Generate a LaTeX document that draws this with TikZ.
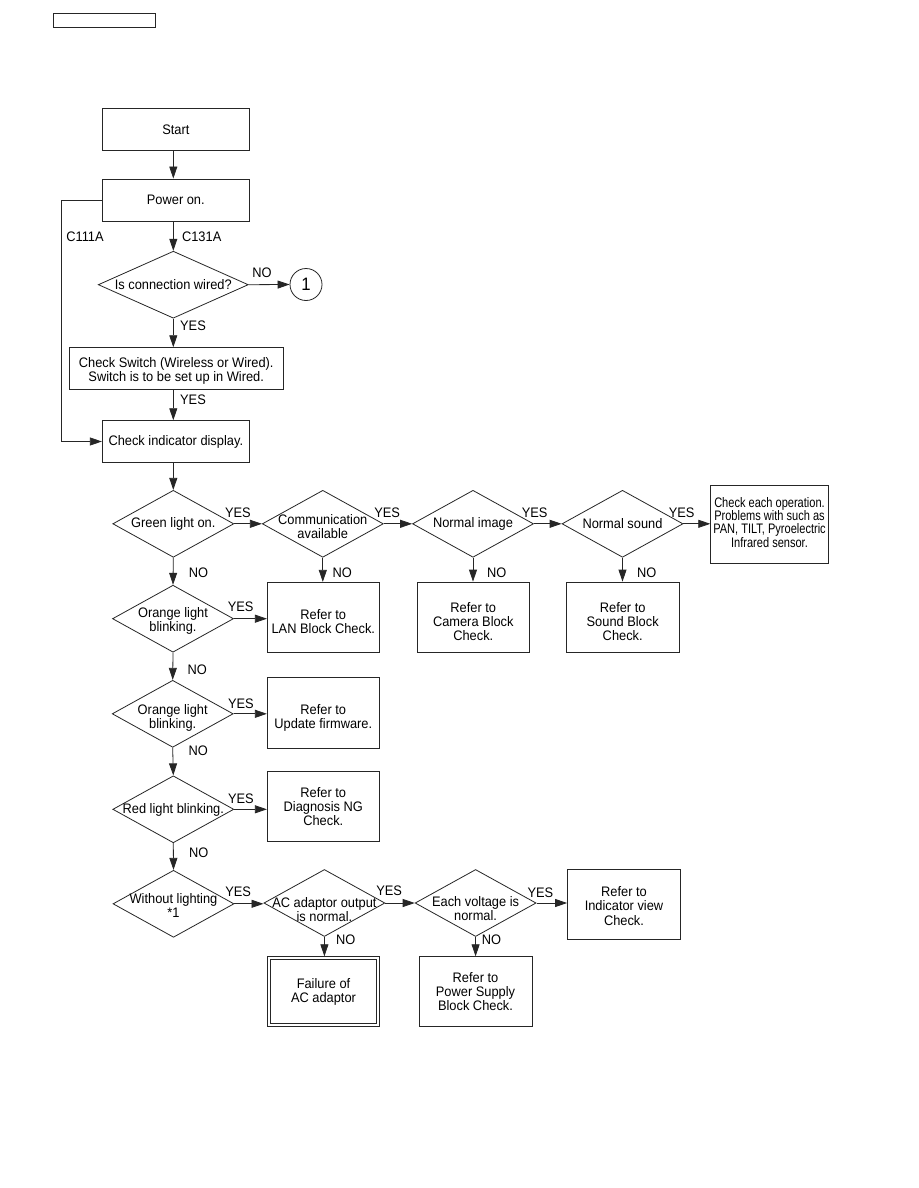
\documentclass[tikz,border=0pt]{standalone}
\usepackage{fontspec}
\setmainfont[FakeStretch=0.93]{Liberation Sans}
\newfontfamily\narrowfont[FakeStretch=0.8]{Liberation Sans}
\usetikzlibrary{shapes.geometric,arrows.meta}
\definecolor{ln}{gray}{0.15}
\tikzset{
  box/.style={draw=ln, rectangle, inner sep=0pt, align=center},
  dia/.style={draw=ln, diamond, inner sep=0pt, minimum width=121pt, minimum height=67pt},
  dtxt/.style={inner sep=0pt, align=center},
  arr/.style={draw=ln, -{Triangle[length=12pt,width=8pt]}},
  lb/.style={inner sep=0pt, anchor=center},
}
\begin{document}
\begin{tikzpicture}[x=1pt,y=-1pt,line width=0.8pt,font=\fontsize{13.8}{14.3}\selectfont]
\useasboundingbox[fill=white] (0,0) rectangle (918,1188);

% header box
\node[box, minimum width=102pt, minimum height=14pt] (hdr) at (104,20) {};

% left column boxes
\node[box, minimum width=147pt, minimum height=42.7pt] (start) at (175.8,129.4) {Start};
\node[box, minimum width=147pt, minimum height=42.7pt] (pw) at (175.8,200.3) {Power on.};
\node[dia, minimum width=150pt, label={[dtxt]center:Is connection wired?}] (q1) at (173.3,284.7) {};
\node[draw=ln, circle, minimum size=32pt, inner sep=0pt, font=\fontsize{18}{18}\selectfont] (one) at (306,284.5) {1};
\node[box, minimum width=214.3pt, minimum height=41.7pt, label={[dtxt,yshift=-2.5pt]center:Check Switch (Wireless or Wired).\\Switch is to be set up in Wired.}] (sw) at (176.2,368.5) {};
\node[box, minimum width=147pt, minimum height=41.7pt] (ci) at (175.8,441.5) {Check indicator display.};

% row 1
\node[dia, label={[dtxt]center:Green light on.}] (g) at (173.3,523.8) {};
\node[dia, label={[dtxt,yshift=-3pt]center:Communication\\available}] (c) at (322.8,523.8) {};
\node[dia, label={[dtxt]center:Normal image}] (img) at (473,523.8) {};
\node[dia, label={[dtxt]center:Normal sound}] (snd) at (622.5,523.8) {};
\node[box, minimum width=117.6pt, minimum height=78.3pt, label={[dtxt,yshift=2pt,font=\narrowfont\fontsize{13.8}{13.3}\selectfont]center:Check each operation.\\Problems with such as\\PAN, TILT, Pyroelectric\\Infrared sensor.}] (chk) at (769.5,524.2) {};

% row 2
\node[dia, label={[dtxt,yshift=-2.5pt]center:Orange light\\blinking.}] (o1) at (173,618.7) {};
\node[box, minimum width=112pt, minimum height=70pt, label={[dtxt,yshift=-4pt]center:Refer to\\LAN Block Check.}] (lan) at (323.3,617.3) {};
\node[box, minimum width=112pt, minimum height=70pt, label={[dtxt,yshift=-4.5pt]center:Refer to\\Camera Block\\Check.}] (cam) at (473.3,617) {};
\node[box, minimum width=113.3pt, minimum height=70pt, label={[dtxt,yshift=-4.5pt]center:Refer to\\Sound Block\\Check.}] (sb) at (622.7,617) {};

% row 3
\node[dia, label={[dtxt,yshift=-4pt]center:Orange light\\blinking.}] (o2) at (172.7,713.8) {};
\node[box, minimum width=112pt, minimum height=71pt, label={[dtxt,yshift=-5pt]center:Refer to\\Update firmware.}] (upd) at (323.3,712.8) {};

% row 4
\node[dia, label={[dtxt,yshift=-1pt]center:Red light blinking.}] (red) at (173.3,809.3) {};
\node[box, minimum width=112pt, minimum height=70pt, label={[dtxt]center:Refer to\\Diagnosis NG\\Check.}] (diag) at (323.3,806.7) {};

% row 5
\node[dia, label={[dtxt,yshift=-2pt]center:Without lighting\\*1}] (wl) at (173.5,903.8) {};
\node[dia, label={[dtxt,yshift=-6.5pt]center:AC adaptor output\\is normal.}] (ac) at (324.4,903) {};
\node[dia, label={[dtxt,yshift=-5.3pt]center:Each voltage is\\normal.}] (ev) at (475.6,903) {};
\node[box, minimum width=113pt, minimum height=70pt, label={[dtxt,yshift=-1.5pt]center:Refer to\\Indicator view\\Check.}] (ind) at (624,904.3) {};
\node[box, minimum width=112.5pt, minimum height=70pt, label={[dtxt]center:Failure of\\AC adaptor}] (fail) at (323.5,991.7) {};
\draw[ln] ([shift={(3.3,3.3)}]fail.north west) rectangle ([shift={(-3.3,-3.3)}]fail.south east);
\node[box, minimum width=113pt, minimum height=70pt, label={[dtxt]center:Refer to\\Power Supply\\Block Check.}] (ps) at (475.5,991.7) {};

% side labels
\node[lb] (c111) at (85,236.7) {C111A};

% connectors, left column
\draw[arr] (start.south -| q1.north) -- (pw.north -| q1.north);
\draw[arr] (pw.south -| q1.north) -- node[lb, midway, xshift=28.4pt] {C131A} (q1.north);
\draw[arr] (q1.east) -- node[lb, at start, xshift=13.4pt, yshift=12pt] {NO} (one.west);
\draw[arr] (q1.south) -- node[lb, midway, xshift=19.7pt, yshift=7pt] {YES} (sw.north -| q1.south);
\draw[arr] (sw.south -| q1.south) -- node[lb, midway, xshift=19.7pt, yshift=5.7pt] {YES} (ci.north -| q1.south);
\draw[arr] (pw.west) -- ++(-40.3,0) |- (ci.west);
\draw[arr] (ci.south -| g.north) -- (g.north);

% row 1
\draw[arr] (g.east) -- node[lb, at start, xshift=3.7pt, yshift=11.5pt] {YES} (c.west);
\draw[arr] (c.east) -- node[lb, at start, xshift=3.4pt, yshift=11.5pt] {YES} (img.west);
\draw[arr] (img.east) -- node[lb, at start, xshift=0.7pt, yshift=11.5pt] {YES} (snd.west);
\draw[arr] (snd.east) -- node[lb, at start, xshift=-1.7pt, yshift=11.5pt] {YES} (snd.east -| chk.west);
\draw[arr] (g.south) -- node[lb, midway, xshift=25.3pt, yshift=-1.4pt] {NO} (o1.north);
\draw[arr] (c.south) -- node[lb, midway, xshift=19.5pt, yshift=-2.7pt] {NO} (c.south |- lan.north);
\draw[arr] (img.south) -- node[lb, midway, xshift=23.7pt, yshift=-2.7pt] {NO} (img.south |- cam.north);
\draw[arr] (snd.south) -- node[lb, midway, xshift=24.2pt, yshift=-2.7pt] {NO} (snd.south |- sb.north);

% row 2-4
\draw[arr] (o1.east) -- node[lb, at start, xshift=6.7pt, yshift=12pt] {YES} (o1.east -| lan.west);
\draw[arr] (o1.south) -- node[lb, midway, xshift=24.5pt, yshift=-3pt] {NO} (o2.north);
\draw[arr] (o2.east) -- node[lb, at start, xshift=7.3pt, yshift=10.5pt] {YES} (o2.east -| upd.west);
\draw[arr] (o2.south) -- node[lb, midway, xshift=25.3pt, yshift=10.8pt] {NO} (red.north);
\draw[arr] (red.east) -- node[lb, at start, xshift=6.7pt, yshift=11pt] {YES} (red.east -| diag.west);
\draw[arr] (red.south) -- node[lb, midway, xshift=25.3pt, yshift=3.6pt] {NO} (wl.north);

% row 5
\draw[arr] (wl.east) -- node[lb, at start, xshift=3.8pt, yshift=12pt] {YES} (wl.east -| ac.west);
\draw[arr] (ac.east) -- node[lb, at start, xshift=3.8pt, yshift=12pt] {YES} (ev.west);
\draw[arr] (ev.east) -- node[lb, at start, xshift=3.9pt, yshift=10.7pt] {YES} (ev.east -| ind.west);
\draw[arr] (ac.south) -- node[lb, midway, xshift=21.4pt, yshift=6.5pt] {NO} (ac.south |- fail.north);
\draw[arr] (ev.south) -- node[lb, midway, xshift=16pt, yshift=6.5pt] {NO} (ev.south |- ps.north);
\end{tikzpicture}
\end{document}
